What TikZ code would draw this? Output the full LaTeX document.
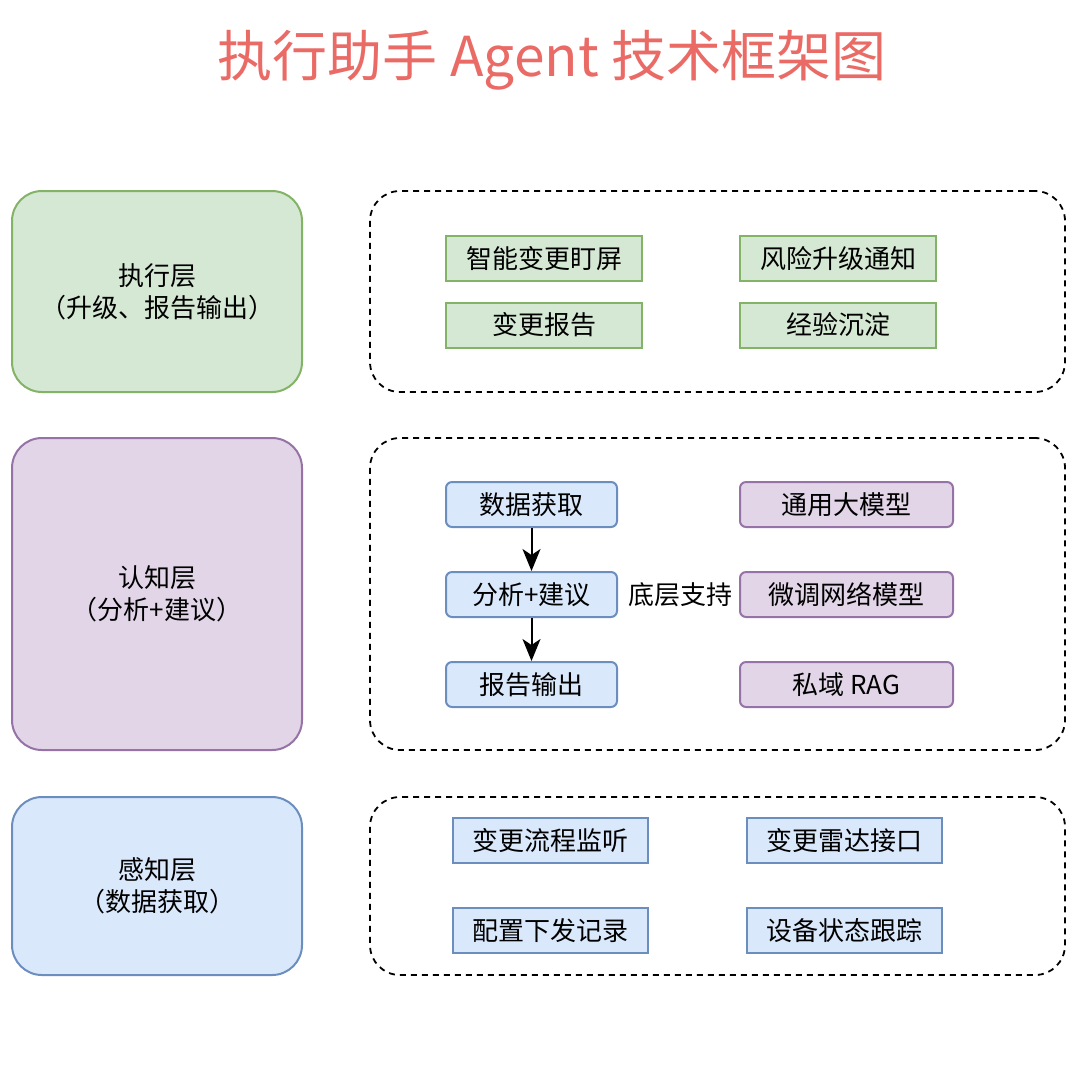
\documentclass[tikz,border=0pt]{standalone}
\usepackage{fontspec}
\setmainfont{Noto Sans CJK SC}
\usetikzlibrary{arrows.meta}
\definecolor{gfill}{HTML}{D5E8D4}\definecolor{gline}{HTML}{82B366}
\definecolor{pfill}{HTML}{E1D5E7}\definecolor{pline}{HTML}{9673A6}
\definecolor{bfill}{HTML}{DAE8FC}\definecolor{bline}{HTML}{6C8EBF}
\definecolor{titlered}{HTML}{EA6B66}
\tikzset{>={Stealth[length=11pt,width=9pt,inset=3pt]},every node/.style={font=\fontsize{13}{16}\selectfont,inner sep=0pt},
  layer/.style={draw,line width=1pt,rounded corners=15pt,align=center,minimum width=145pt},
  group/.style={draw,dashed,dash pattern=on 3pt off 2.5pt,line width=.9pt,rounded corners=15pt,minimum width=347.5pt},
  item/.style={draw,line width=1pt,minimum height=22.5pt},
  flow/.style={->,line width=1pt}}
\begin{document}
\begin{tikzpicture}[x=.5pt,y=-.5pt]
\useasboundingbox (0,0) rectangle (1080,1078);
\node[text=titlered,font=\fontsize{27.5}{33}\selectfont] (title) at (552,60){执行助手 Agent 技术框架图};
% layers
\node[layer,fill=gfill,draw=gline,minimum height=100.5pt] (exec) at (157,291.5){执行层\\（升级、报告输出）};
\node[layer,fill=pfill,draw=pline,minimum height=156pt] (cogn) at (157,594){认知层\\（分析+建议）};
\node[layer,fill=bfill,draw=bline,minimum height=89pt] (perc) at (157,886){感知层\\（数据获取）};
\node[group,minimum height=100.5pt] (execg) at (717.5,291.5){};
\node[group,minimum height=156pt] (cogng) at (717.5,594){};
\node[group,minimum height=89pt] (percg) at (717.5,886){};
% execution
\tikzset{gitem/.style={item,fill=gfill,draw=gline,minimum width=98pt}}
\node[gitem] (e1) at (544,258.5){智能变更盯屏};\node[gitem] (e2) at (838,258.5){风险升级通知};
\node[gitem] (e3) at (544,325){变更报告};\node[gitem] (e4) at (838,325){经验沉淀};
% cognition
\tikzset{bitem/.style={item,fill=bfill,draw=bline,rounded corners=3pt,minimum width=85.5pt},
  pitem/.style={item,fill=pfill,draw=pline,rounded corners=3pt,minimum width=106.5pt}}
\node[bitem] (c1) at (531.5,504.5){数据获取};\node[bitem] (c2) at (531.5,594.5){分析+建议};
\node[bitem] (c3) at (531.5,684.5){报告输出};
\node[pitem] (m1) at (846.5,504.5){通用大模型};\node[pitem] (m2) at (846.5,594.5){微调网络模型};
\node[pitem] (m3) at (846.5,684.5){私域 RAG};
\node (base) at (680,594.5){底层支持};
\draw[flow] (c1)--(c2);\draw[flow] (c2)--(c3);
% perception
\tikzset{sitem/.style={item,fill=bfill,draw=bline,minimum width=97.5pt}}
\node[sitem] (p1) at (550.5,840.5){变更流程监听};\node[sitem] (p2) at (844.5,840.5){变更雷达接口};
\node[sitem] (p3) at (550.5,930.5){配置下发记录};\node[sitem] (p4) at (844.5,930.5){设备状态跟踪};
\end{tikzpicture}
\end{document}
